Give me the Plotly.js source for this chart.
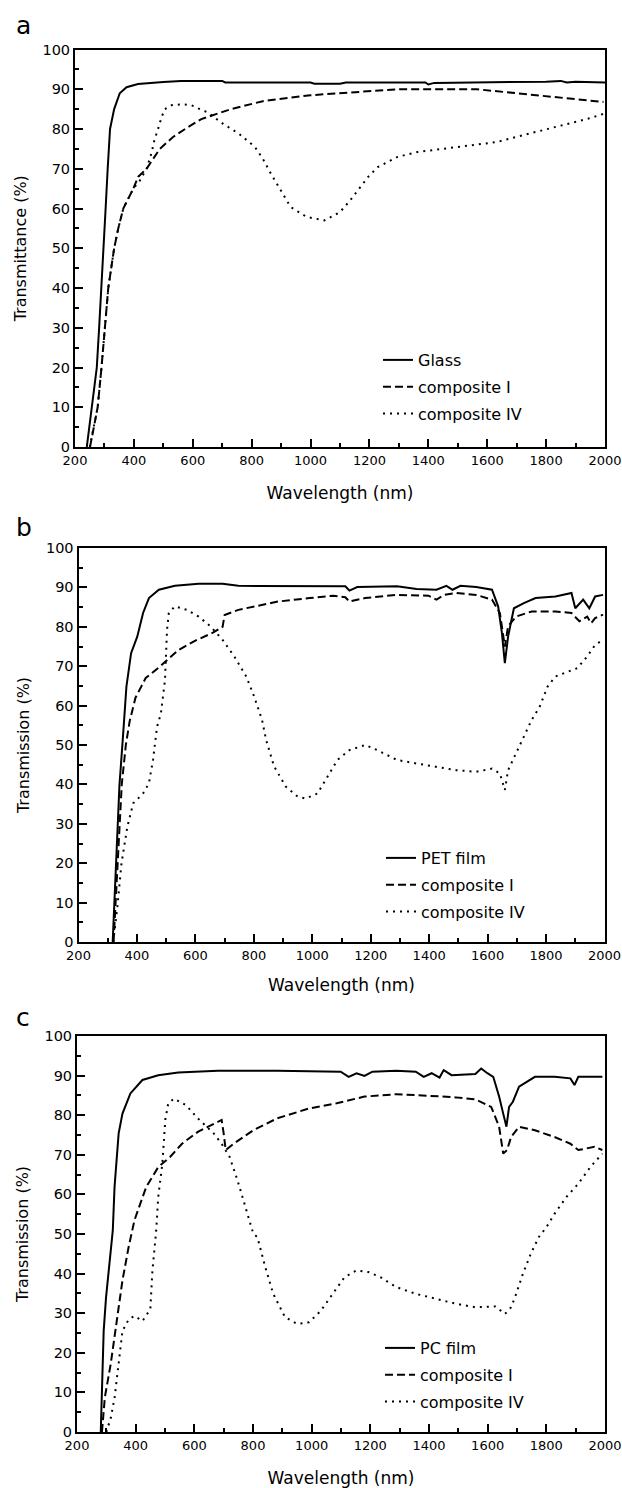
<!DOCTYPE html>
<html>
<head>
<meta charset="utf-8">
<script src="https://cdn.plot.ly/plotly-3.0.1.min.js"></script>
<style>html,body{margin:0;padding:0;background:#fff;}#chart{width:622px;height:1488px;}</style>
</head>
<body>
<div id="chart"></div>
<script>
// ---------- Panel a ----------
const glassWl = [240,257,274,282,290,297,304,311,319,333,352,375,414,500,560,700,710,1000,1013,1100,1120,1390,1400,1420,1700,1800,1850,1870,1900,2000];
const glassT  = [0,10,20,30,40,50,60,70,80,85,89,90.5,91.3,91.8,92.1,92.1,91.7,91.7,91.4,91.4,91.7,91.7,91.2,91.6,91.8,91.9,92.1,91.7,91.9,91.7];
const aCompIWl = [251,277,290,302,313,333,347,364,398,415,443,488,533,584,629,730,838,1000,1107,1296,1565,1699,1834,1995];
const aCompIT  = [0,10,20,30,40,50,55,60,65,68,70,75,78,80.5,82.5,85,87,88.5,89,90,90,89,88,86.8];
const aCompIVWl = [250,277,290,302,313,333,347,364,398,420,443,460,469,482,494,505,528,562,595,618,650,703,757,811,838,865,899,932,986,1047,1100,1134,1161,1195,1228,1296,1363,1497,1632,1699,1834,1942,1995];
const aCompIVT  = [0,10,20,30,40,50,55,60,65,67,70,74,77,80,83,85,86,86.2,86,85.2,84.2,81.3,78.8,75.5,72.5,68.8,64.6,60.4,57.9,57,59.1,62,64.6,67.9,70.4,73,74.2,75.5,76.7,78,80.5,82.6,83.8];

// ---------- Panel b ----------
const petWl = [317,326,340,353,364,380,401,421,441,475,530,611,693,747,882,1113,1127,1154,1290,1357,1425,1459,1480,1507,1561,1615,1636,1649,1659,1670,1690,1724,1764,1832,1887,1900,1927,1948,1968,1995];
const petT  = [0,14,39.6,53,64.8,73.3,77.5,83.5,87.3,89.4,90.4,90.9,90.9,90.4,90.3,90.3,89.2,90.1,90.3,89.6,89.4,90.4,89.4,90.4,90.1,89.4,85.2,78.4,70.8,77.5,84.7,86,87.3,87.7,88.6,84.7,86.9,84.7,87.7,88.1];
const bCompIWl = [320,335,348,362,375,395,430,480,540,600,660,693,700,747,815,882,991,1072,1113,1127,1181,1290,1398,1425,1452,1493,1561,1615,1642,1659,1670,1697,1751,1832,1887,1914,1941,1954,1968,1995];
const bCompIT  = [0,20,40,50,56,62,67,70,74,76.5,78.5,80,83,84.3,85.3,86.4,87.3,87.9,87.5,86.4,87.3,88.1,87.9,86.9,88.1,88.6,88.1,86.9,83.5,75,80.1,82.6,83.9,83.9,83.5,81.4,82.6,80.9,82.2,83.1];
const bCompIVWl = [319,333,347,367,387,421,441,455,469,482,496,503,509,530,570,611,652,693,733,774,801,828,842,869,910,950,977,1018,1045,1086,1127,1181,1222,1290,1357,1425,1493,1561,1615,1642,1659,1670,1697,1724,1751,1778,1805,1832,1873,1907,1941,1968,1995];
const bCompIVT  = [0,8.9,19.9,29.2,35.2,37.7,40.3,46.2,54.7,58,66.5,79.2,83.5,85.2,84.3,82.6,80.1,76.7,72.5,67.4,62.3,56.4,51.3,44.6,39.4,36.9,36.4,37.7,41.1,46.2,48.7,50,48.7,46.2,45.3,44.5,43.6,43.2,44,42.8,38.6,43.6,47.9,52.1,56.4,59.7,64.8,67.4,68.6,69.5,72.5,75.4,76.7];

// ---------- Panel c ----------
const pcWl = [281,291,299,308,322,328,342,355,382,423,477,545,680,882,1099,1126,1153,1180,1207,1288,1355,1382,1409,1436,1450,1477,1558,1578,1599,1619,1639,1653,1664,1673,1686,1707,1734,1761,1828,1882,1896,1909,1991];
const pcT  = [0,25.6,34,40.8,50.9,61.9,75.4,80.4,85.5,88.9,90.1,90.8,91.2,91.2,91,89.7,90.6,89.9,91,91.2,91,89.7,90.6,89.5,91.4,90.1,90.4,91.8,90.6,89.7,84.7,80.4,77.1,82.1,83.4,87.2,88.4,89.7,89.7,89.3,87.6,89.7,89.7];
const cCompIWl = [285,295,315,335,355,376,396,436,477,518,558,612,666,693,700,707,734,801,882,991,1085,1180,1288,1355,1491,1558,1612,1639,1653,1666,1680,1707,1761,1828,1882,1909,1964,1991];
const cCompIT  = [0,8.8,17.2,27.3,38.3,46.7,53.5,61.9,66.9,69.5,72.8,75.8,77.9,78.8,75.4,71.2,72.8,76.2,79.2,81.7,83,84.7,85.3,85.1,84.5,84,82.1,77.1,70.3,71.2,74.5,77.1,76.2,74.5,72.8,71.2,72,71.2];
const cCompIVWl = [300,315,328,342,355,376,396,423,450,457,470,477,491,501,511,531,572,612,666,693,720,747,774,801,815,842,869,909,950,991,1031,1072,1112,1153,1193,1234,1288,1355,1423,1491,1558,1626,1659,1680,1693,1720,1747,1774,1801,1828,1869,1909,1950,1991];
const cCompIVT  = [0,3.5,8.6,17,25.5,28.4,29.3,28,31,40.6,50.9,59.4,67.8,78.8,83,84.2,82.5,79.2,75.4,72.8,69.5,63.6,56.8,50.1,49.2,41.6,34.9,29,27.3,27.7,30.6,34.9,39.1,40.8,40.4,39.1,36.6,34.9,33.6,32.4,31.5,31.7,29.8,31.5,34,39.9,45,49.2,51.8,55.1,59.4,62.7,66.9,70.3];

const FONT = 'DejaVu Sans, Liberation Sans, Arial, sans-serif';
const H = 1488, W = 622;
const solid = {color:'#000', width:2};
const dashed = {color:'#000', width:2, dash:'8px,4px'};
const dotted = {color:'#000', width:2, dash:'2px,5px'};

function tr(x, y, name, line, xa, ya, lg, grp) {
  return {x:x, y:y, name:name, type:'scatter', mode:'lines', line:line,
          xaxis:xa, yaxis:ya, legend:lg, legendgroup:grp, hoverinfo:'skip'};
}

const data = [
  tr(glassWl, glassT, 'Glass', solid, 'x', 'y', 'legend', 'a1'),
  tr(aCompIWl, aCompIT, 'composite I', dashed, 'x', 'y', 'legend', 'a2'),
  tr(aCompIVWl, aCompIVT, 'composite IV', dotted, 'x', 'y', 'legend', 'a3'),
  tr(petWl, petT, 'PET film', solid, 'x2', 'y2', 'legend2', 'b1'),
  tr(bCompIWl, bCompIT, 'composite I', dashed, 'x2', 'y2', 'legend2', 'b2'),
  tr(bCompIVWl, bCompIVT, 'composite IV', dotted, 'x2', 'y2', 'legend2', 'b3'),
  tr(pcWl, pcT, 'PC film', solid, 'x3', 'y3', 'legend3', 'c1'),
  tr(cCompIWl, cCompIT, 'composite I', dashed, 'x3', 'y3', 'legend3', 'c2'),
  tr(cCompIVWl, cCompIVT, 'composite IV', dotted, 'x3', 'y3', 'legend3', 'c3')
];

function xAxis(x0, x1, anchor, standoff) {
  return {domain:[x0/W, x1/W], anchor:anchor, range:[200,2000], tick0:200, dtick:200,
    ticks:'inside', ticklen:8, tickwidth:2, tickcolor:'#000', ticklabeloverflow:'allow',
    minor:{dtick:100, tick0:200, ticks:'inside', ticklen:4, tickwidth:2, tickcolor:'#000', showgrid:false},
    showline:true, linewidth:2, linecolor:'#000', mirror:true, showgrid:false, zeroline:false,
    tickfont:{family:FONT, size:13, color:'#000'},
    title:{text:'Wavelength (nm)', font:{family:FONT, size:17, color:'#000'}, standoff:standoff}};
}
function yAxis(top, bottom, anchor, label) {
  return {domain:[(H-bottom)/H, (H-top)/H], anchor:anchor, range:[0,100], tick0:0, dtick:10,
    ticks:'inside', ticklen:8, tickwidth:2, tickcolor:'#000', ticklabeloverflow:'allow',
    minor:{dtick:5, tick0:0, ticks:'inside', ticklen:4, tickwidth:2, tickcolor:'#000', showgrid:false},
    showline:true, linewidth:2, linecolor:'#000', mirror:true, showgrid:false, zeroline:false,
    tickfont:{family:FONT, size:14.5, color:'#000'},
    title:{text:label, font:{family:FONT, size:16, color:'#000'}, standoff:12}};
}
function legend(xpx, ymid) {
  return {x:xpx/W, xanchor:'left', y:(H-ymid)/H, yanchor:'middle', bgcolor:'rgba(0,0,0,0)',
    borderwidth:0, tracegroupgap:3, font:{family:FONT, size:16, color:'#000'}};
}
function letter(t, ypx) {
  return {text:t, xref:'paper', yref:'paper', x:14/W, xanchor:'left', y:(H-ypx)/H, yanchor:'middle',
    showarrow:false, font:{family:FONT, size:25, color:'#000'}};
}

const layout = {
  width:W, height:H, margin:{l:0, r:0, t:0, b:0}, paper_bgcolor:'#fff', plot_bgcolor:'#fff',
  showlegend:true,
  xaxis: xAxis(75, 605, 'y', 21),
  yaxis: yAxis(49.5, 447, 'x', 'Transmittance (%)'),
  xaxis2: xAxis(78.5, 604.5, 'y2', 18),
  yaxis2: yAxis(548, 942, 'x2', 'Transmission (%)'),
  xaxis3: xAxis(77, 605, 'y3', 21),
  yaxis3: yAxis(1036, 1432, 'x3', 'Transmission (%)'),
  legend: legend(378, 387),
  legend2: legend(381, 885),
  legend3: legend(380, 1375),
  annotations:[letter('a', 26), letter('b', 527), letter('c', 1018)]
};

Plotly.newPlot('chart', data, layout, {staticPlot:true, displayModeBar:false});
</script>
</body>
</html>
